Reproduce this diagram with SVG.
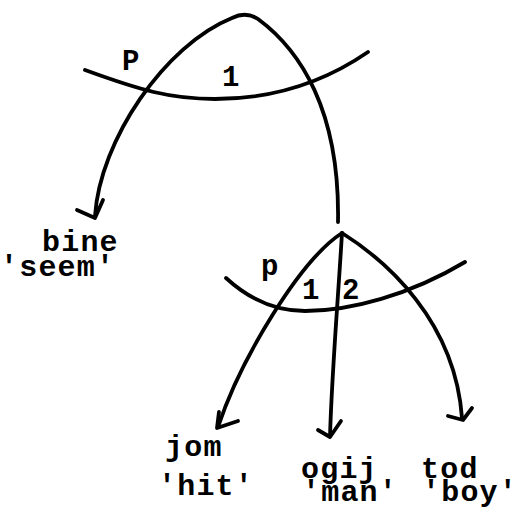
<svg xmlns="http://www.w3.org/2000/svg" width="517" height="519" viewBox="0 0 517 519">
<style>
.l{fill:none;stroke:#000;stroke-width:3.8;stroke-linecap:round;stroke-linejoin:round}
.t{font-family:"Liberation Mono","Courier New",monospace;font-size:30px;font-weight:bold;letter-spacing:1.2px;fill:#000}
.s{font-family:"Liberation Mono","Courier New",monospace;font-size:29px;font-weight:bold;fill:#000}
</style>
<rect width="517" height="519" fill="#fff"/>
<g id="connectors">
<path class="l" d="M95,216 C100,140 165,45 232,18 Q246,11 258,19 C300,50 340,110 338,222"/>
<polyline class="l" points="77,210 95,218 103,200"/>
<path class="l" d="M85,70 C140,90 170,99 215,99 C270,99 320,85 368,52"/>
<path class="l" d="M342,233 C300,260 240,360 218,427"/>
<polyline class="l" points="219,412 217,428 238,421"/>
<path class="l" d="M342,233 C338,300 332,370 330,436"/>
<polyline class="l" points="318,430 330,437 341,421"/>
<path class="l" d="M342,233 C385,260 455,320 462,418"/>
<polyline class="l" points="448,416 463,420 472,408"/>
<path class="l" d="M226,278 C250,300 275,311 305,311 C350,311 410,295 465,262"/>
</g>
<g id="labels">
<text class="s" x="122" y="70">P</text>
<text class="s" x="222" y="86">1</text>
<text class="s" x="261" y="275">p</text>
<text class="s" x="302" y="299">1</text>
<text class="s" x="342" y="299">2</text>
</g>
<g id="node-bine"><text class="t" x="42" y="251">bine</text><text class="t" x="0" y="276">'seem'</text></g>
<g id="node-jom"><text class="t" x="165" y="456">jom</text><text class="t" x="158" y="495">'hit'</text></g>
<g id="node-ogij"><text class="t" x="301" y="478">ogij</text><text class="t" x="302" y="501">'man'</text></g>
<g id="node-tod"><text class="t" x="421" y="478">tod</text><text class="t" x="422" y="501">'boy'</text></g>
</svg>
